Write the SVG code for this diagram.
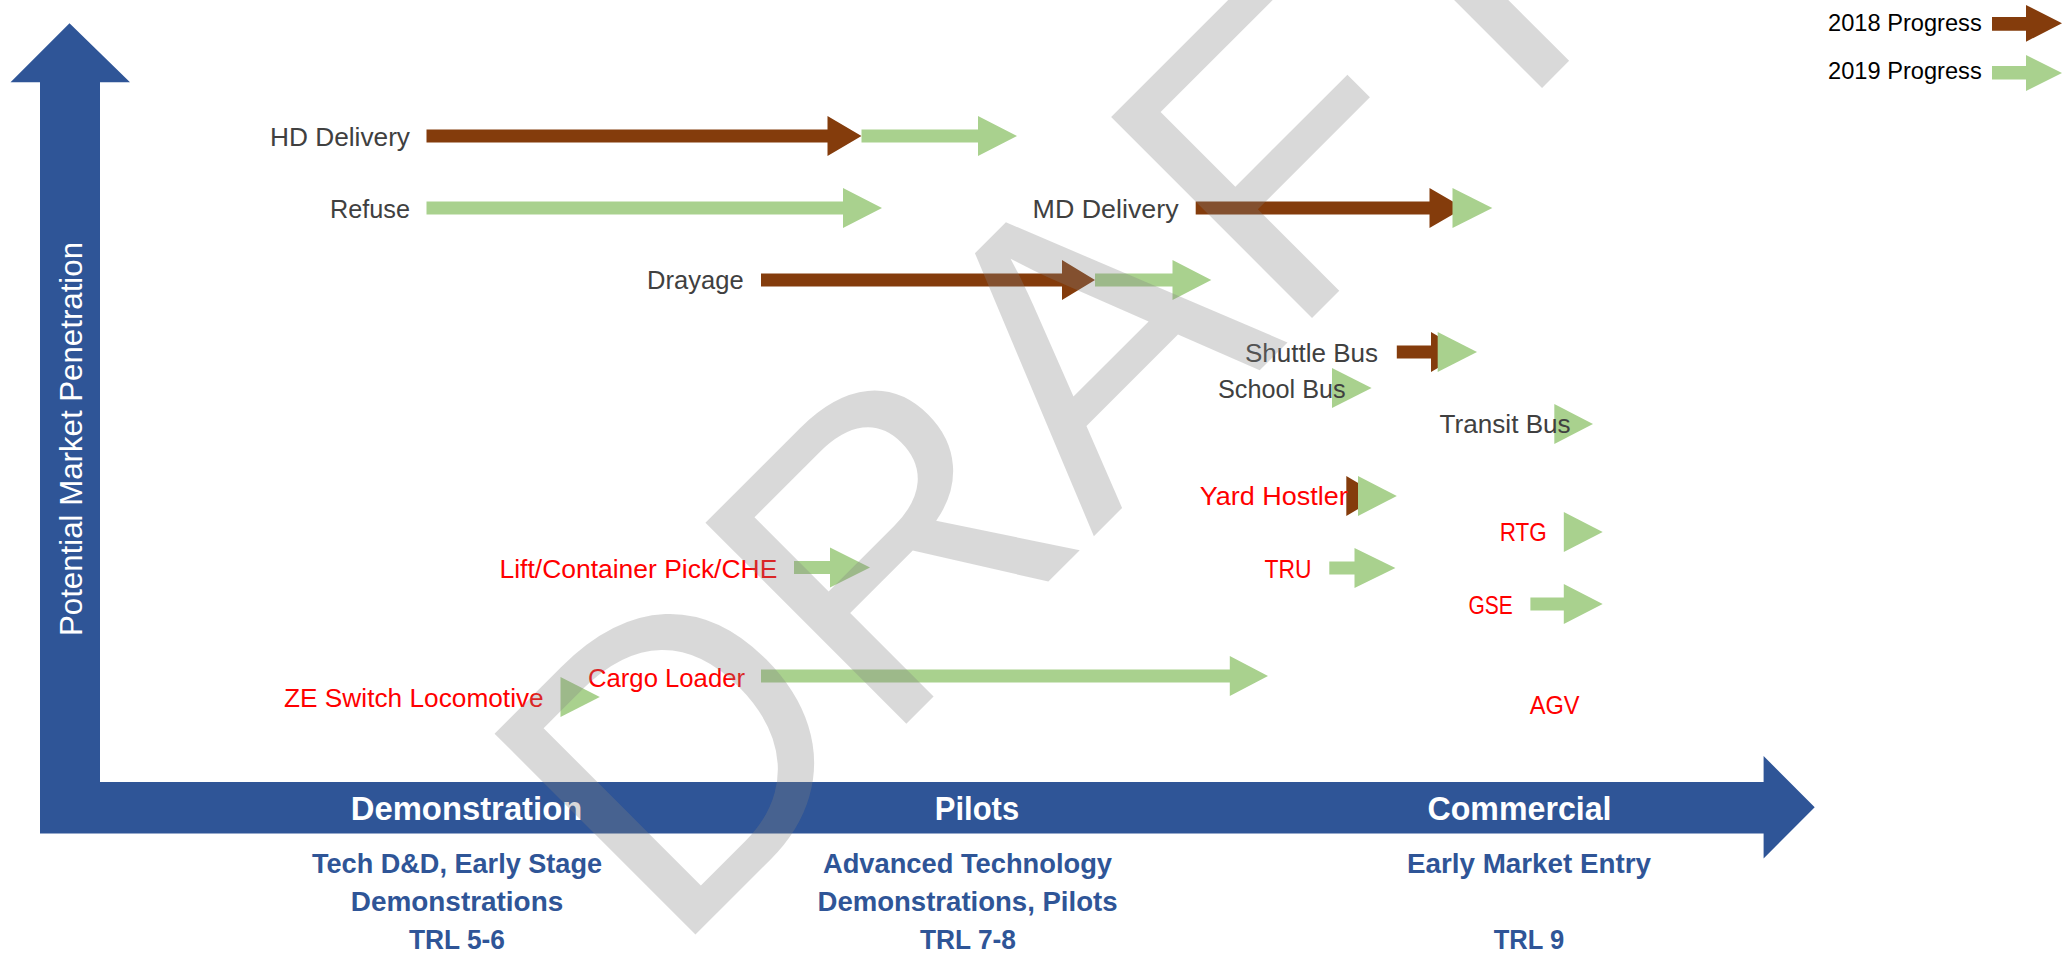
<svg xmlns="http://www.w3.org/2000/svg" width="2069" height="953" viewBox="0 0 2069 953">
<style>
.b{fill:#843C0C}
.g{fill:#A9D18E}
.lbl{font-family:"Liberation Sans",Arial,sans-serif;font-size:26.5px;fill:#404040;text-anchor:end}
.red{fill:#FF0000}
.leg{font-family:"Liberation Sans",Arial,sans-serif;font-size:23px;fill:#000000}
.ax{font-family:"Liberation Sans",Arial,sans-serif;font-size:33.5px;font-weight:bold;fill:#FFFFFF;text-anchor:middle}
.sub{font-family:"Liberation Sans",Arial,sans-serif;font-size:27px;font-weight:bold;fill:#2F5597;text-anchor:middle}
.ylab{font-family:"Liberation Sans",Arial,sans-serif;font-size:31px;fill:#FFFFFF;text-anchor:middle}
.wm{font-family:"Liberation Sans",Arial,sans-serif;font-size:413px;fill:#808080;fill-opacity:0.3}
</style>
<rect width="2069" height="953" fill="#FFFFFF"/>
<g id="axes">
<path d="M40,833.5 V82.3 H10.5 L69.5,23.3 L130,82.3 H100 V782 H1763.6 V756 L1814.7,807.3 L1763.6,858.5 V833.5 Z" fill="#2F5597"/>
<text class="ylab" x="81.7" y="439" transform="rotate(-90 81.7 439)" textLength="394" lengthAdjust="spacingAndGlyphs">Potential Market Penetration</text>
<text class="ax" x="466.5" y="820" textLength="231.5" lengthAdjust="spacingAndGlyphs">Demonstration</text>
<text class="ax" x="977" y="820" textLength="84.3" lengthAdjust="spacingAndGlyphs">Pilots</text>
<text class="ax" x="1519.5" y="820" textLength="184" lengthAdjust="spacingAndGlyphs">Commercial</text>
<text class="sub" x="457" y="873" textLength="290" lengthAdjust="spacingAndGlyphs">Tech D&amp;D, Early Stage</text>
<text class="sub" x="457" y="910.7" textLength="212.5" lengthAdjust="spacingAndGlyphs">Demonstrations</text>
<text class="sub" x="457" y="949" textLength="96" lengthAdjust="spacingAndGlyphs">TRL 5-6</text>
<text class="sub" x="967.5" y="873" textLength="289" lengthAdjust="spacingAndGlyphs">Advanced Technology</text>
<text class="sub" x="967.5" y="910.7" textLength="300" lengthAdjust="spacingAndGlyphs">Demonstrations, Pilots</text>
<text class="sub" x="968" y="949" textLength="96" lengthAdjust="spacingAndGlyphs">TRL 7-8</text>
<text class="sub" x="1529" y="873" textLength="244" lengthAdjust="spacingAndGlyphs">Early Market Entry</text>
<text class="sub" x="1529" y="949" textLength="70.5" lengthAdjust="spacingAndGlyphs">TRL 9</text>
</g>
<g id="connectors">
<polygon class="b" points="426.5,129.5 827.5,129.5 827.5,116 861.5,136 827.5,156 827.5,142.5 426.5,142.5"/>
<polygon class="g" points="861.5,129.5 978,129.5 978,116 1017,136 978,156 978,142.5 861.5,142.5"/>
<polygon class="g" points="426.5,201.5 843,201.5 843,188 882,208 843,228 843,214.5 426.5,214.5"/>
<polygon class="b" points="1195.7,201.5 1429.5,201.5 1429.5,188 1464,208 1429.5,228 1429.5,214.5 1195.7,214.5"/>
<polygon class="g" points="1452.5,188 1492.3,208 1452.5,228"/>
<polygon class="b" points="761,273.5 1062,273.5 1062,260 1095,280 1062,300 1062,286.5 761,286.5"/>
<polygon class="g" points="1095,273.5 1172.5,273.5 1172.5,260 1211.3,280 1172.5,300 1172.5,286.5 1095,286.5"/>
<polygon class="b" points="1396.8,345.5 1431,345.5 1431,332 1465,352 1431,372 1431,358.5 1396.8,358.5"/>
<polygon class="g" points="1437.7,332 1477,352 1437.7,372"/>
<polygon class="g" points="1332,368 1371.6,388 1332,408"/>
<polygon class="g" points="1554.3,404 1593,424 1554.3,444"/>
<polygon class="b" points="1346.3,476 1380,496 1346.3,516"/>
<polygon class="g" points="1358,476 1396.8,496 1358,516"/>
<polygon class="g" points="1563.8,512 1602.7,532 1563.8,552"/>
<polygon class="g" points="1329.3,561.5 1354.5,561.5 1354.5,548 1395.4,568 1354.5,588 1354.5,574.5 1329.3,574.5"/>
<polygon class="g" points="1530.4,597.5 1563.8,597.5 1563.8,584 1602.7,604 1563.8,624 1563.8,610.5 1530.4,610.5"/>
<polygon class="g" points="794,561 830,561 830,547.5 870,567.5 830,587.5 830,574 794,574"/>
<polygon class="g" points="761,669.5 1229.8,669.5 1229.8,656 1268,676 1229.8,696 1229.8,682.5 761,682.5"/>
<polygon class="g" points="560.5,677 599.8,697 560.5,717"/>
</g>
<g id="legend">
<text class="leg" x="1828" y="30.7" textLength="153.7" lengthAdjust="spacingAndGlyphs">2018 Progress</text>
<polygon class="b" points="1992,17 2026,17 2026,5 2062,23.3 2026,41.7 2026,30.7 1992,30.7"/>
<text class="leg" x="1828" y="78.5" textLength="153.7" lengthAdjust="spacingAndGlyphs">2019 Progress</text>
<polygon class="g" points="1992,66 2026,66 2026,55 2062,73 2026,91 2026,79.5 1992,79.5"/>
</g>
<g id="node-hd-delivery"><text class="lbl" x="410" y="146" textLength="140" lengthAdjust="spacingAndGlyphs">HD Delivery</text></g>
<g id="node-refuse"><text class="lbl" x="410" y="218.3" textLength="80" lengthAdjust="spacingAndGlyphs">Refuse</text></g>
<g id="node-drayage"><text class="lbl" x="743.6" y="289" textLength="96.6" lengthAdjust="spacingAndGlyphs">Drayage</text></g>
<g id="node-md-delivery"><text class="lbl" x="1178.6" y="218" textLength="146" lengthAdjust="spacingAndGlyphs">MD Delivery</text></g>
<g id="node-shuttle-bus"><text class="lbl" x="1378" y="361.7" textLength="133" lengthAdjust="spacingAndGlyphs">Shuttle Bus</text></g>
<g id="node-school-bus"><text class="lbl" x="1345.6" y="397.7" textLength="127.6" lengthAdjust="spacingAndGlyphs">School Bus</text></g>
<g id="node-transit-bus"><text class="lbl" x="1570.6" y="433.3" textLength="131" lengthAdjust="spacingAndGlyphs">Transit Bus</text></g>
<g id="node-yard-hostler"><text class="lbl red" x="1347.7" y="505.3" textLength="148" lengthAdjust="spacingAndGlyphs">Yard Hostler</text></g>
<g id="node-rtg"><text class="lbl red" x="1546.8" y="541.3" textLength="47" lengthAdjust="spacingAndGlyphs">RTG</text></g>
<g id="node-tru"><text class="lbl red" x="1311.6" y="577.7" textLength="47" lengthAdjust="spacingAndGlyphs">TRU</text></g>
<g id="node-gse"><text class="lbl red" x="1512.7" y="613.7" textLength="44.3" lengthAdjust="spacingAndGlyphs">GSE</text></g>
<g id="node-agv"><text class="lbl red" x="1579.5" y="714" textLength="49.8" lengthAdjust="spacingAndGlyphs">AGV</text></g>
<g id="node-lift"><text class="lbl red" x="777.3" y="578.3" textLength="277.8" lengthAdjust="spacingAndGlyphs">Lift/Container Pick/CHE</text></g>
<g id="node-cargo-loader"><text class="lbl red" x="745" y="686.7" textLength="157" lengthAdjust="spacingAndGlyphs">Cargo Loader</text></g>
<g id="node-ze-switch"><text class="lbl red" x="543.7" y="707.3" textLength="259.7" lengthAdjust="spacingAndGlyphs">ZE Switch Locomotive</text></g>
<g id="watermark"><text class="wm" x="671.5" y="958.5" transform="rotate(-45 671.5 958.5)">DRAFT</text></g>
</svg>
